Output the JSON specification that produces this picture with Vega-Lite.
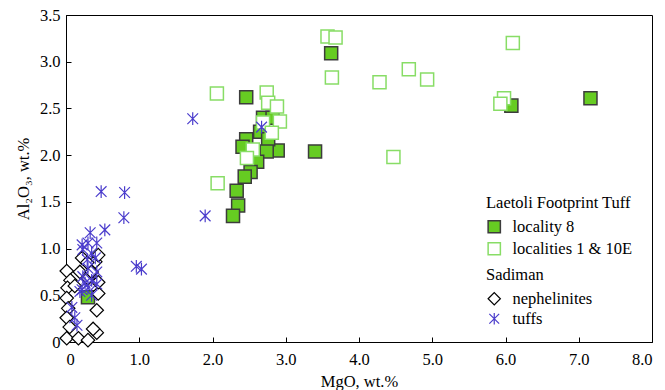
{
  "$schema": "https://vega.github.io/schema/vega-lite/v6.json",
  "width": 586,
  "height": 327,
  "autosize": {"type": "none"},
  "padding": {"left": 66, "top": 15, "right": 13, "bottom": 48},
  "background": "white",
  "config": {
    "font": "Liberation Serif",
    "view": {"stroke": "black", "strokeWidth": 1},
    "axis": {
      "domainColor": "black",
      "tickColor": "black",
      "labelColor": "black",
      "titleColor": "black",
      "labelFont": "Liberation Serif",
      "titleFont": "Liberation Serif",
      "labelFontSize": 16.5,
      "titleFontSize": 16.5,
      "titleFontWeight": "normal",
      "grid": false,
      "tickSize": -5,
      "domainWidth": 1
    },
    "legend": {
      "titleFont": "Liberation Serif",
      "labelFont": "Liberation Serif",
      "titleFontSize": 16.5,
      "labelFontSize": 16.5,
      "titleFontWeight": "normal",
      "titleColor": "black",
      "labelColor": "black"
    }
  },
  "datasets": {
    "laetoli": [
      {"MgO": 2.46, "Al2O3": 2.62, "group": "locality 8"},
      {"MgO": 3.62, "Al2O3": 3.09, "group": "locality 8"},
      {"MgO": 7.16, "Al2O3": 2.61, "group": "locality 8"},
      {"MgO": 6.08, "Al2O3": 2.53, "group": "locality 8"},
      {"MgO": 3.40, "Al2O3": 2.04, "group": "locality 8"},
      {"MgO": 2.89, "Al2O3": 2.05, "group": "locality 8"},
      {"MgO": 2.69, "Al2O3": 2.40, "group": "locality 8"},
      {"MgO": 2.82, "Al2O3": 2.40, "group": "locality 8"},
      {"MgO": 2.65, "Al2O3": 2.25, "group": "locality 8"},
      {"MgO": 2.46, "Al2O3": 2.17, "group": "locality 8"},
      {"MgO": 2.41, "Al2O3": 2.09, "group": "locality 8"},
      {"MgO": 2.76, "Al2O3": 2.17, "group": "locality 8"},
      {"MgO": 2.74, "Al2O3": 2.04, "group": "locality 8"},
      {"MgO": 2.61, "Al2O3": 1.93, "group": "locality 8"},
      {"MgO": 2.52, "Al2O3": 1.82, "group": "locality 8"},
      {"MgO": 2.44, "Al2O3": 1.77, "group": "locality 8"},
      {"MgO": 2.33, "Al2O3": 1.62, "group": "locality 8"},
      {"MgO": 2.35, "Al2O3": 1.46, "group": "locality 8"},
      {"MgO": 2.28, "Al2O3": 1.35, "group": "locality 8"},
      {"MgO": 0.30, "Al2O3": 0.48, "group": "locality 8"},
      {"MgO": 3.57, "Al2O3": 3.27, "group": "localities 1 & 10E"},
      {"MgO": 3.68, "Al2O3": 3.26, "group": "localities 1 & 10E"},
      {"MgO": 3.63, "Al2O3": 2.83, "group": "localities 1 & 10E"},
      {"MgO": 4.28, "Al2O3": 2.78, "group": "localities 1 & 10E"},
      {"MgO": 4.68, "Al2O3": 2.92, "group": "localities 1 & 10E"},
      {"MgO": 4.93, "Al2O3": 2.81, "group": "localities 1 & 10E"},
      {"MgO": 6.10, "Al2O3": 3.20, "group": "localities 1 & 10E"},
      {"MgO": 4.47, "Al2O3": 1.98, "group": "localities 1 & 10E"},
      {"MgO": 5.98, "Al2O3": 2.61, "group": "localities 1 & 10E"},
      {"MgO": 5.93, "Al2O3": 2.55, "group": "localities 1 & 10E"},
      {"MgO": 2.06, "Al2O3": 2.66, "group": "localities 1 & 10E"},
      {"MgO": 2.74, "Al2O3": 2.67, "group": "localities 1 & 10E"},
      {"MgO": 2.76, "Al2O3": 2.56, "group": "localities 1 & 10E"},
      {"MgO": 2.88, "Al2O3": 2.52, "group": "localities 1 & 10E"},
      {"MgO": 2.92, "Al2O3": 2.36, "group": "localities 1 & 10E"},
      {"MgO": 2.69, "Al2O3": 2.35, "group": "localities 1 & 10E"},
      {"MgO": 2.81, "Al2O3": 2.24, "group": "localities 1 & 10E"},
      {"MgO": 2.55, "Al2O3": 2.06, "group": "localities 1 & 10E"},
      {"MgO": 2.47, "Al2O3": 1.97, "group": "localities 1 & 10E"},
      {"MgO": 2.07, "Al2O3": 1.70, "group": "localities 1 & 10E"}
    ],
    "sadiman": [
      {"MgO": 0.01, "Al2O3": 0.76, "group": "nephelinites"},
      {"MgO": 0.06, "Al2O3": 0.66, "group": "nephelinites"},
      {"MgO": 0.02, "Al2O3": 0.58, "group": "nephelinites"},
      {"MgO": 0.01, "Al2O3": 0.47, "group": "nephelinites"},
      {"MgO": 0.03, "Al2O3": 0.36, "group": "nephelinites"},
      {"MgO": 0.01, "Al2O3": 0.26, "group": "nephelinites"},
      {"MgO": 0.05, "Al2O3": 0.16, "group": "nephelinites"},
      {"MgO": 0.01, "Al2O3": 0.04, "group": "nephelinites"},
      {"MgO": 0.17, "Al2O3": 0.04, "group": "nephelinites"},
      {"MgO": 0.30, "Al2O3": 0.02, "group": "nephelinites"},
      {"MgO": 0.42, "Al2O3": 0.10, "group": "nephelinites"},
      {"MgO": 0.37, "Al2O3": 0.14, "group": "nephelinites"},
      {"MgO": 0.42, "Al2O3": 0.34, "group": "nephelinites"},
      {"MgO": 0.44, "Al2O3": 0.52, "group": "nephelinites"},
      {"MgO": 0.44, "Al2O3": 0.64, "group": "nephelinites"},
      {"MgO": 0.40, "Al2O3": 0.86, "group": "nephelinites"},
      {"MgO": 0.44, "Al2O3": 0.93, "group": "nephelinites"},
      {"MgO": 0.22, "Al2O3": 0.90, "group": "nephelinites"},
      {"MgO": 0.29, "Al2O3": 0.85, "group": "nephelinites"},
      {"MgO": 0.19, "Al2O3": 0.75, "group": "nephelinites"},
      {"MgO": 0.12, "Al2O3": 0.60, "group": "nephelinites"},
      {"MgO": 0.30, "Al2O3": 0.68, "group": "nephelinites"},
      {"MgO": 0.35, "Al2O3": 0.75, "group": "nephelinites"},
      {"MgO": 1.73, "Al2O3": 2.39, "group": "tuffs"},
      {"MgO": 2.67, "Al2O3": 2.30, "group": "tuffs"},
      {"MgO": 0.48, "Al2O3": 1.61, "group": "tuffs"},
      {"MgO": 0.80, "Al2O3": 1.60, "group": "tuffs"},
      {"MgO": 0.79, "Al2O3": 1.33, "group": "tuffs"},
      {"MgO": 1.90, "Al2O3": 1.35, "group": "tuffs"},
      {"MgO": 0.53, "Al2O3": 1.20, "group": "tuffs"},
      {"MgO": 0.33, "Al2O3": 1.17, "group": "tuffs"},
      {"MgO": 0.96, "Al2O3": 0.81, "group": "tuffs"},
      {"MgO": 1.03, "Al2O3": 0.78, "group": "tuffs"},
      {"MgO": 0.22, "Al2O3": 1.04, "group": "tuffs"},
      {"MgO": 0.30, "Al2O3": 1.06, "group": "tuffs"},
      {"MgO": 0.42, "Al2O3": 1.06, "group": "tuffs"},
      {"MgO": 0.23, "Al2O3": 0.99, "group": "tuffs"},
      {"MgO": 0.35, "Al2O3": 0.95, "group": "tuffs"},
      {"MgO": 0.29, "Al2O3": 0.88, "group": "tuffs"},
      {"MgO": 0.40, "Al2O3": 0.90, "group": "tuffs"},
      {"MgO": 0.30, "Al2O3": 0.79, "group": "tuffs"},
      {"MgO": 0.42, "Al2O3": 0.75, "group": "tuffs"},
      {"MgO": 0.23, "Al2O3": 0.70, "group": "tuffs"},
      {"MgO": 0.35, "Al2O3": 0.66, "group": "tuffs"},
      {"MgO": 0.26, "Al2O3": 0.63, "group": "tuffs"},
      {"MgO": 0.30, "Al2O3": 0.58, "group": "tuffs"},
      {"MgO": 0.22, "Al2O3": 0.56, "group": "tuffs"},
      {"MgO": 0.19, "Al2O3": 0.54, "group": "tuffs"},
      {"MgO": 0.42, "Al2O3": 0.62, "group": "tuffs"},
      {"MgO": 0.35, "Al2O3": 0.50, "group": "tuffs"},
      {"MgO": 0.08, "Al2O3": 0.37, "group": "tuffs"},
      {"MgO": 0.12, "Al2O3": 0.26, "group": "tuffs"},
      {"MgO": 0.15, "Al2O3": 0.18, "group": "tuffs"}
    ]
  },
  "encoding": {
    "x": {
      "field": "MgO", "type": "quantitative",
      "scale": {"domain": [0, 8], "nice": false, "zero": false},
      "axis": {
        "title": "MgO, wt.%",
        "values": [0, 1, 2, 3, 4, 5, 6, 7, 8],
        "labelExpr": "datum.value == 0 ? '0' : format(datum.value, '.1f')",
        "labelPadding": 14,
        "titlePadding": 6
      }
    },
    "y": {
      "field": "Al2O3", "type": "quantitative",
      "scale": {"domain": [0, 3.5], "nice": false, "zero": false},
      "axis": {
        "title": "Al₂O₃, wt.%",
        "values": [0, 0.5, 1, 1.5, 2, 2.5, 3, 3.5],
        "labelExpr": "datum.value == 0 ? '0' : format(datum.value, '.1f')",
        "labelPadding": 11,
        "titlePadding": 8
      }
    }
  },
  "layer": [
    {
      "data": {"name": "laetoli"},
      "mark": {"type": "square", "size": 170, "strokeWidth": 1.5, "opacity": 1},
      "encoding": {
        "fill": {
          "field": "group", "type": "nominal",
          "scale": {"domain": ["locality 8", "localities 1 & 10E"], "range": ["#66cc22", "#ffffff"]},
          "legend": {
            "title": "Laetoli Footprint Tuff",
            "orient": "none", "legendX": 420, "legendY": 180,
            "symbolType": "square", "symbolSize": 150, "symbolStrokeWidth": 1.5,
            "padding": 0, "rowPadding": 3, "titlePadding": 7, "labelOffset": 10
          }
        },
        "stroke": {
          "field": "group", "type": "nominal",
          "scale": {"domain": ["locality 8", "localities 1 & 10E"], "range": ["#3c3c3c", "#88dd66"]},
          "legend": {
            "title": "Laetoli Footprint Tuff",
            "orient": "none", "legendX": 420, "legendY": 180,
            "symbolType": "square", "symbolSize": 150, "symbolStrokeWidth": 1.5,
            "padding": 0, "rowPadding": 3, "titlePadding": 7, "labelOffset": 10
          }
        }
      }
    },
    {
      "data": {"name": "sadiman"},
      "mark": {"type": "point", "filled": false, "fill": "white", "size": 180, "strokeWidth": 1.2, "opacity": 1},
      "encoding": {
        "shape": {
          "field": "group", "type": "nominal",
          "scale": {"domain": ["nephelinites", "tuffs"], "range": ["diamond", "M-0.8,-0.8L0.8,0.8M-0.8,0.8L0.8,-0.8M0,-0.95L0,0.95"]},
          "legend": {
            "title": "Sadiman",
            "orient": "none", "legendX": 420, "legendY": 252,
            "symbolSize": 150, "symbolStrokeWidth": 1.2,
            "padding": 0, "rowPadding": 3, "titlePadding": 7, "labelOffset": 10
          }
        },
        "color": {
          "field": "group", "type": "nominal",
          "scale": {"domain": ["nephelinites", "tuffs"], "range": ["#000000", "#4a3ccc"]},
          "legend": {
            "title": "Sadiman",
            "orient": "none", "legendX": 420, "legendY": 252,
            "symbolSize": 150, "symbolStrokeWidth": 1.2,
            "padding": 0, "rowPadding": 3, "titlePadding": 7, "labelOffset": 10
          }
        }
      }
    }
  ]
}
